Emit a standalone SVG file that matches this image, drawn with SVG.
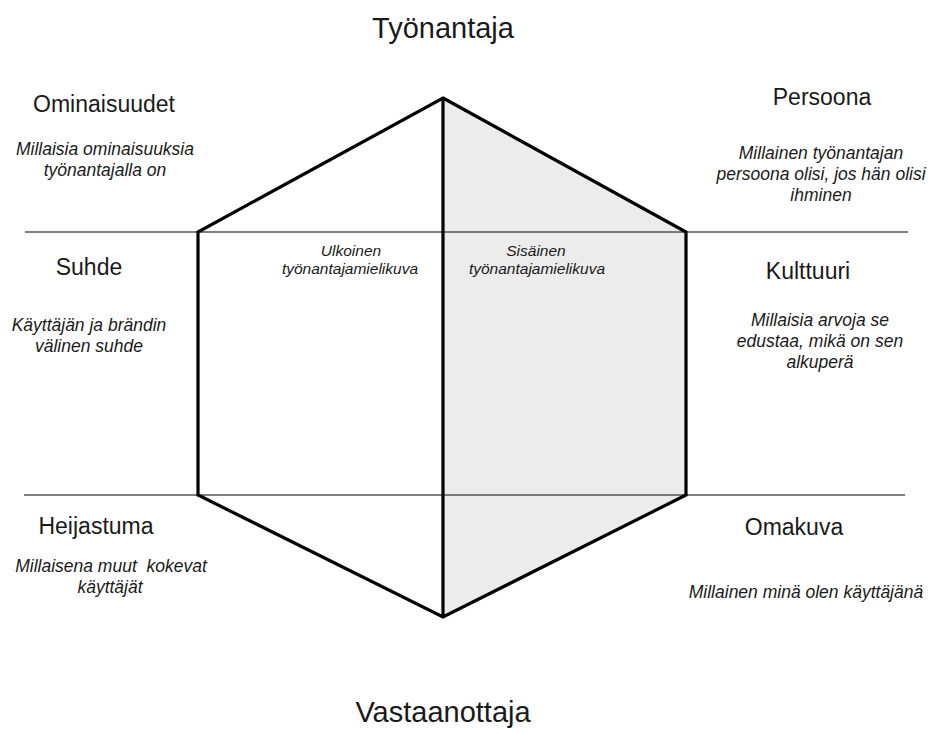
<svg xmlns="http://www.w3.org/2000/svg" width="939" height="733" viewBox="0 0 939 733">
  <style>
    .title { font-family: "Liberation Sans", Arial, sans-serif; font-size: 29px; fill: #1a1a1a; text-anchor: middle; }
    .head { font-family: "Liberation Sans", Arial, sans-serif; font-size: 23px; fill: #1a1a1a; text-anchor: middle; }
    .desc { font-family: "Liberation Sans", Arial, sans-serif; font-size: 17.5px; font-style: italic; fill: #1a1a1a; text-anchor: middle; }
    .inner { font-family: "Liberation Sans", Arial, sans-serif; font-size: 15.5px; font-style: italic; fill: #1a1a1a; text-anchor: middle; }
    .edge { fill: none; stroke: #000; stroke-width: 3.2; stroke-linejoin: miter; }
    .band { stroke: #555; stroke-width: 1.5; }
  </style>
  <rect width="939" height="733" fill="#fff"/>

  <!-- shaded right half of the hexagon -->
  <polygon points="443,98 686,232 686,495 443,617" fill="#ececec"/>

  <!-- horizontal band lines -->
  <g id="connectors">
    <line class="band" x1="25" y1="232" x2="908" y2="232"/>
    <line class="band" x1="24" y1="495" x2="905" y2="495"/>
  </g>

  <!-- hexagon outline with centre divider -->
  <g id="hexagon">
    <polygon class="edge" points="443,98 686,232 686,495 443,617 198,495 198,232"/>
    <line class="edge" x1="443" y1="98" x2="443" y2="617"/>
  </g>

  <g id="tyonantaja">
    <text class="title" x="443" y="38">Työnantaja</text>
  </g>
  <g id="vastaanottaja">
    <text class="title" x="443" y="722">Vastaanottaja</text>
  </g>

  <g id="ominaisuudet">
    <text class="head" x="104" y="112">Ominaisuudet</text>
    <text class="desc" x="105" y="155">Millaisia ominaisuuksia</text>
    <text class="desc" x="105" y="176">työnantajalla on</text>
  </g>

  <g id="persoona">
    <text class="head" x="822" y="105">Persoona</text>
    <text class="desc" x="821" y="159">Millainen työnantajan</text>
    <text class="desc" x="821" y="180">persoona olisi, jos hän olisi</text>
    <text class="desc" x="821" y="201">ihminen</text>
  </g>

  <g id="suhde">
    <text class="head" x="89" y="275">Suhde</text>
    <text class="desc" x="89" y="331">Käyttäjän ja brändin</text>
    <text class="desc" x="89" y="352">välinen suhde</text>
  </g>

  <g id="kulttuuri">
    <text class="head" x="808" y="279">Kulttuuri</text>
    <text class="desc" x="820" y="326">Millaisia arvoja se</text>
    <text class="desc" x="820" y="347">edustaa, mikä on sen</text>
    <text class="desc" x="820" y="368">alkuperä</text>
  </g>

  <g id="ulkoinen">
    <text class="inner" x="351" y="256">Ulkoinen</text>
    <text class="inner" x="350" y="274">työnantajamielikuva</text>
  </g>

  <g id="sisainen">
    <text class="inner" x="536" y="256">Sisäinen</text>
    <text class="inner" x="537" y="274">työnantajamielikuva</text>
  </g>

  <g id="heijastuma">
    <text class="head" x="96" y="534">Heijastuma</text>
    <text class="desc" x="111" y="572" xml:space="preserve">Millaisena muut  kokevat</text>
    <text class="desc" x="110" y="593">käyttäjät</text>
  </g>

  <g id="omakuva">
    <text class="head" x="794" y="535">Omakuva</text>
    <text class="desc" x="806" y="598">Millainen minä olen käyttäjänä</text>
  </g>
</svg>
